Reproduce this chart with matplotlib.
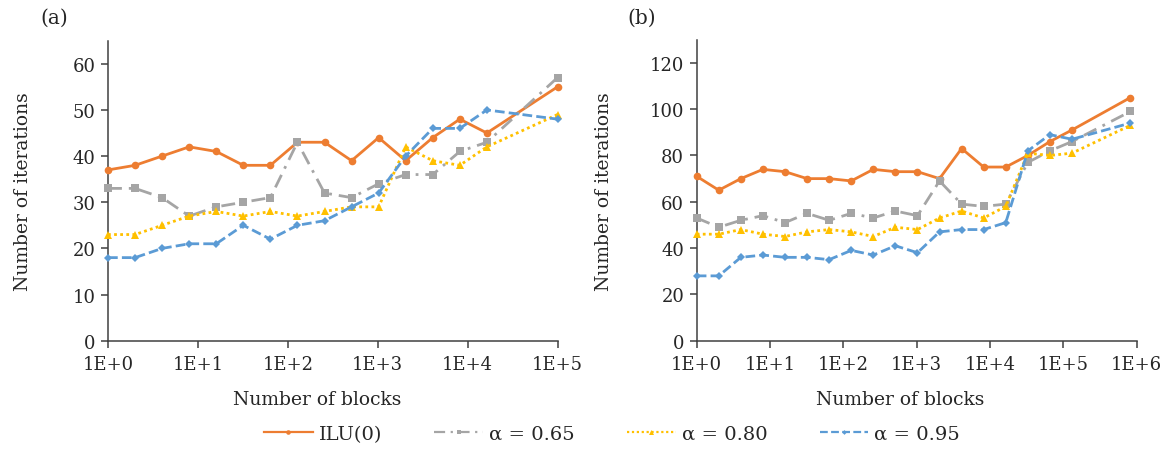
import math
import matplotlib
matplotlib.use('Agg')
import matplotlib.pyplot as plt
from matplotlib.ticker import FixedLocator, FuncFormatter, NullLocator
from matplotlib.lines import Line2D

plt.rcParams.update({
    'font.family': ['DejaVu Serif'],
    'font.size': 13,
})

# === data ===
blocks_a = [1, 2, 4, 8, 16, 32, 64, 128, 256, 512, 1024, 2048, 4096, 8192, 16384, 100000]
ilu_a = [37, 38, 40, 42, 41, 38, 38, 43, 43, 39, 44, 39, 44, 48, 45, 55]
a065_a = [33, 33, 31, 27, 29, 30, 31, 43, 32, 31, 34, 36, 36, 41, 43, 57]
a080_a = [23, 23, 25, 27, 28, 27, 28, 27, 28, 29, 29, 42, 39, 38, 42, 49]
a095_a = [18, 18, 20, 21, 21, 25, 22, 25, 26, 29, 32, 40, 46, 46, 50, 48]

blocks_b = [1, 2, 4, 8, 16, 32, 64, 128, 256, 512, 1024, 2048, 4096, 8192,
            16384, 32768, 65536, 131072, 820000]
ilu_b = [71, 65, 70, 74, 73, 70, 70, 69, 74, 73, 73, 70, 83, 75, 75, 80, 86, 91, 105]
a065_b = [53, 49, 52, 54, 51, 55, 52, 55, 53, 56, 54, 69, 59, 58, 59, 77, 82, 86, 99]
a080_b = [46, 46, 48, 46, 45, 47, 48, 47, 45, 49, 48, 53, 56, 53, 58, 81, 80, 81, 93]
a095_b = [28, 28, 36, 37, 36, 36, 35, 39, 37, 41, 38, 47, 48, 48, 51, 82, 89, 87, 94]

labels = ['ILU(0)', 'α = 0.65', 'α = 0.80', 'α = 0.95']

# === styles ===
C_ORANGE = '#ED7D31'
C_GRAY = '#A5A5A5'
C_YELLOW = '#FFC000'
C_BLUE = '#5B9BD5'
AX_COLOR = '#404040'
TXT = '#262626'

styles = [
    dict(color=C_ORANGE, linestyle='-', marker='o', markersize=5.5),
    dict(color=C_GRAY, linestyle=(0, (5, 2.5, 1, 2.5)), marker='s', markersize=6),
    dict(color=C_YELLOW, linestyle=(0, (1, 1.2)), marker='^', markersize=6),
    dict(color=C_BLUE, linestyle=(0, (3.5, 1.5)), marker='D', markersize=4),
]

W, H = 1169, 452
fig = plt.figure(figsize=(W / 100, H / 100), dpi=100)
fig.patch.set_facecolor('white')


def make_axes(l, r, t, b):
    return fig.add_axes([l / W, 1 - b / H, (r - l) / W, (b - t) / H])


ax_a = make_axes(108, 557.5, 41.7, 341.7)
ax_b = make_axes(696.7, 1136.7, 40.7, 341.7)

# axes, x, series, ymax, ystep, decades, ylabel x, xlabel x (axes coords)
panels = [
    (ax_a, blocks_a, [ilu_a, a065_a, a080_a, a095_a], 65, 10, 5, -0.169, 0.466),
    (ax_b, blocks_b, [ilu_b, a065_b, a080_b, a095_b], 130, 20, 6, -0.19, 0.462),
]

for ax, xs, series, ymax, ystep, dec, ylx, xlx in panels:
    for ys, st in zip(series, styles):
        ax.plot(xs, ys, color=st['color'], linestyle=st['linestyle'], lw=2.0,
                marker=st['marker'], markersize=st['markersize'],
                markeredgewidth=0, clip_on=False, zorder=3)
    ax.set_xscale('log')
    ax.set_xlim(1, 10 ** dec)
    ax.set_ylim(0, ymax)
    ax.xaxis.set_major_locator(FixedLocator([10 ** k for k in range(dec + 1)]))
    ax.xaxis.set_minor_locator(NullLocator())
    ax.xaxis.set_major_formatter(FuncFormatter(lambda v, p: '1E+%d' % round(math.log10(v))))
    ax.set_yticks(range(0, ymax, ystep))
    for s in ['top', 'right']:
        ax.spines[s].set_visible(False)
    for s in ['left', 'bottom']:
        ax.spines[s].set_color(AX_COLOR)
        ax.spines[s].set_linewidth(1.1)
    ax.tick_params(axis='both', colors=AX_COLOR, labelcolor=TXT, labelsize=13,
                   length=5, width=1.1, direction='out')
    ax.tick_params(axis='x', pad=5)
    ax.tick_params(axis='y', pad=4)
    ax.set_xlabel('Number of blocks', fontsize=13.5, color=TXT)
    ax.set_ylabel('Number of iterations', fontsize=13.5, color=TXT)
    ax.xaxis.set_label_coords(xlx, -0.165)
    ax.yaxis.set_label_coords(ylx, 0.5)

fig.text(54 / W, 1 - 18 / H, '(a)', fontsize=14.5, color=TXT, ha='center', va='center')
fig.text(642 / W, 1 - 18 / H, '(b)', fontsize=14.5, color=TXT, ha='center', va='center')

handles = [Line2D([], [], color=st['color'], linestyle=st['linestyle'], lw=1.6,
                  marker=st['marker'], markersize=st['markersize'] * 0.6,
                  markeredgewidth=0) for st in styles]
fig.legend(handles, labels, loc='center', bbox_to_anchor=(612 / W, 1 - 435 / H),
           ncol=4, frameon=False, fontsize=14, handlelength=2.5,
           handletextpad=0.3, columnspacing=2.7, labelcolor=TXT)

fig.savefig('out.png', dpi=100, facecolor='white')
plt.close()
